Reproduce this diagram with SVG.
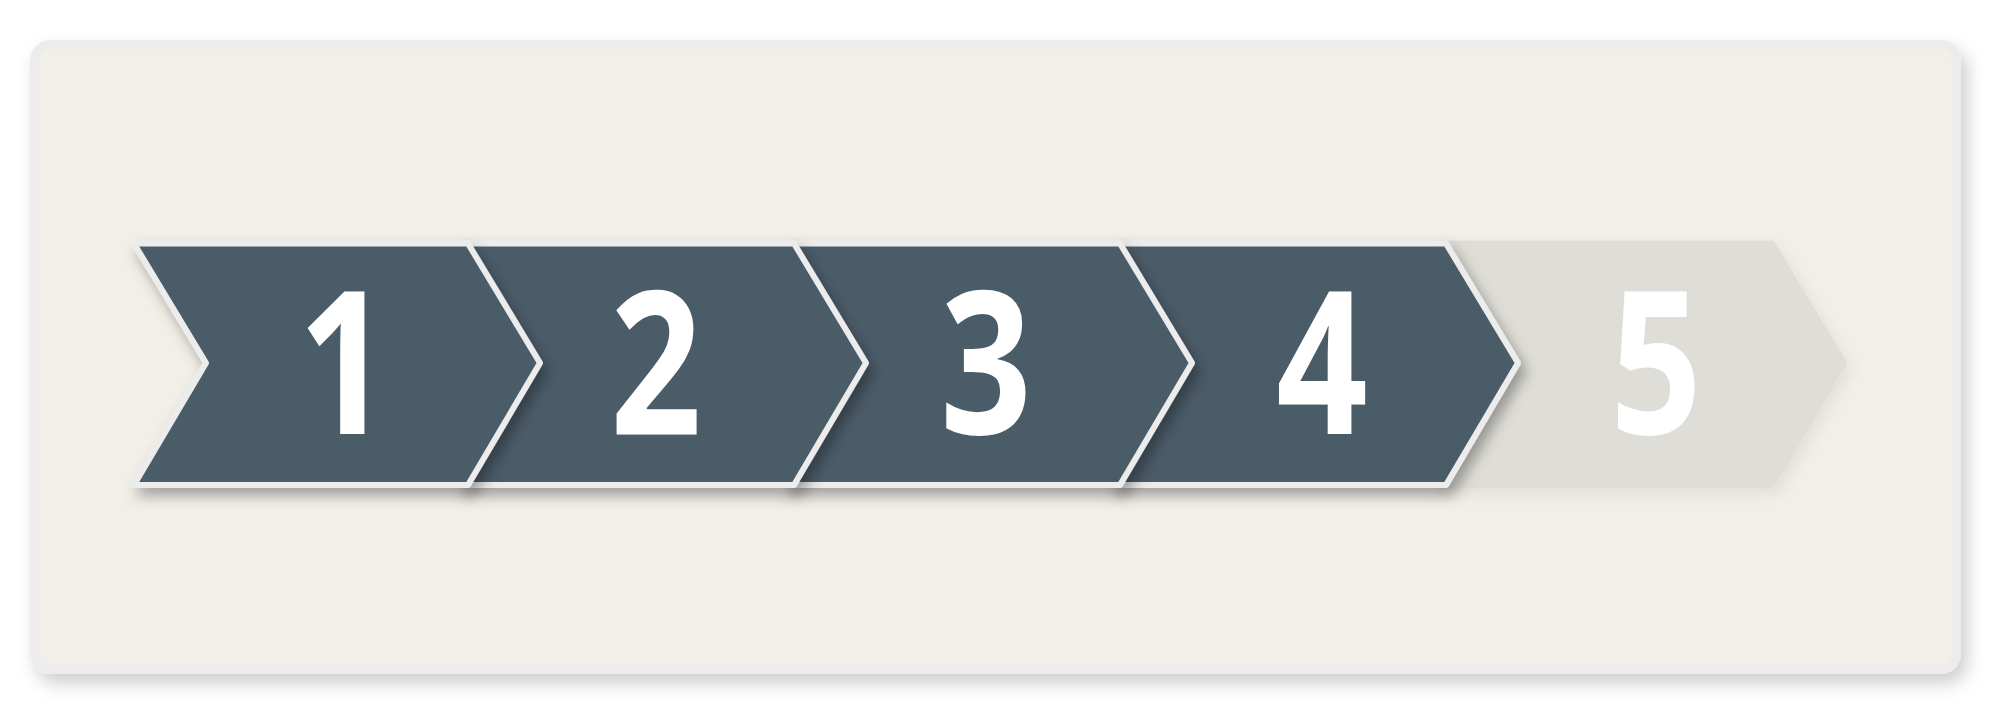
<svg xmlns="http://www.w3.org/2000/svg" width="2000" height="720" viewBox="0 0 2000 720">
  <defs>
    <filter id="panelShadow" x="-5%" y="-10%" width="110%" height="125%">
      <feDropShadow dx="6" dy="9" stdDeviation="9" flood-color="#000" flood-opacity="0.2"/>
    </filter>
    <filter id="chevShadow" x="-10%" y="-15%" width="125%" height="145%">
      <feDropShadow dx="5" dy="8" stdDeviation="7" flood-color="#000" flood-opacity="0.33"/>
    </filter>
    <filter id="chevShadowLight" x="-10%" y="-15%" width="125%" height="145%">
      <feDropShadow dx="4" dy="6" stdDeviation="7" flood-color="#000" flood-opacity="0.07"/>
    </filter>
  </defs>
  <style>
    .panel { fill: #f2efe8; stroke: #ececec; stroke-width: 9; }
    .chev { fill: #4b5c69; stroke: #ececec; stroke-width: 6; stroke-linejoin: round; filter: url(#chevShadow); }
    .chev-off { fill: #deddd7; stroke: #deddd7; stroke-width: 6; stroke-linejoin: round; filter: url(#chevShadowLight); }
    .num { font-family: "Open Sans", "Liberation Sans", sans-serif; font-weight: 700; font-size: 200px; fill: #ffffff; text-anchor: middle; }
  </style>
  <rect width="2000" height="720" fill="#ffffff"/>
  <g id="panel">
    <rect class="panel" x="34.5" y="44.5" width="1922" height="625" rx="16" filter="url(#panelShadow)"/>
  </g>
  <g id="step5">
    <polygon class="chev-off" points="1436,243.5 1772,243.5 1844,363 1772,485 1436,485 1508,363"/>
    <text class="num" transform="translate(1656,434) scale(0.8,1)">5</text>
  </g>
  <g id="step4">
    <polygon class="chev" points="1112,243.5 1446,243.5 1518,363 1446,485 1112,485 1184,363"/>
    <text class="num" transform="translate(1322,434) scale(0.8,1)">4</text>
  </g>
  <g id="step3">
    <polygon class="chev" points="786,243.5 1120,243.5 1192,363 1120,485 786,485 858,363"/>
    <text class="num" transform="translate(986,434) scale(0.8,1)">3</text>
  </g>
  <g id="step2">
    <polygon class="chev" points="460,243.5 794,243.5 866,363 794,485 460,485 532,363"/>
    <text class="num" transform="translate(656,434) scale(0.8,1)">2</text>
  </g>
  <g id="step1">
    <polygon class="chev" points="134,243.5 468,243.5 540,363 468,485 134,485 206,363"/>
    <text class="num" transform="translate(344,434) scale(0.8,1)">1</text>
  </g>
</svg>
